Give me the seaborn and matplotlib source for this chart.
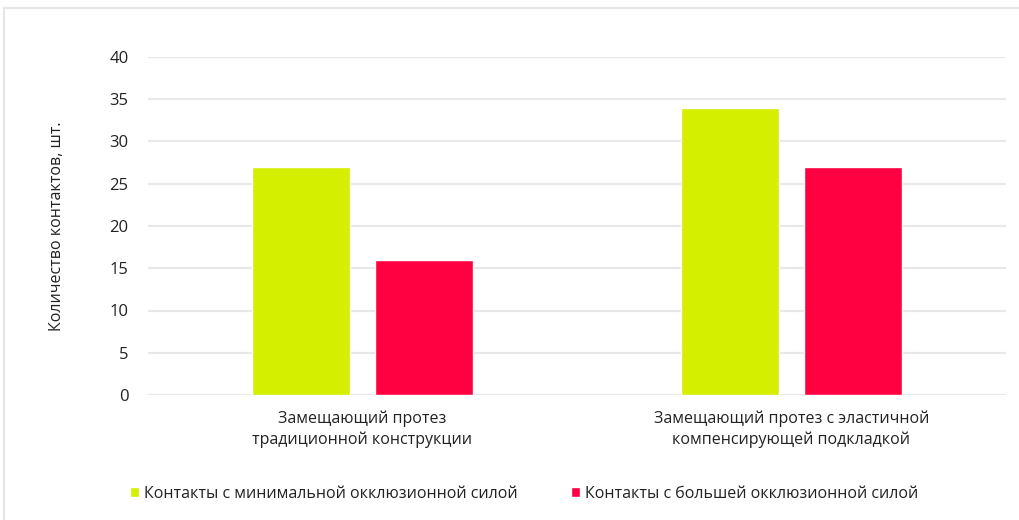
import matplotlib
matplotlib.use("Agg")
import matplotlib.pyplot as plt
import seaborn as sns
import pandas as pd
from matplotlib.lines import Line2D
from matplotlib.patches import Patch

categories = ["Замещающий протез\nтрадиционной конструкции",
              "Замещающий протез с эластичной\nкомпенсирующей подкладкой"]
series_names = ["Контакты с минимальной окклюзионной силой",
                "Контакты с большей окклюзионной силой"]
min_force = [27, 34]
big_force = [16, 27]
colors = ["#d4f000", "#ff0040"]
yticks = [0, 5, 10, 15, 20, 25, 30, 35, 40]

rows = []
for c, v in zip(categories, min_force):
    rows.append({"cat": c, "series": series_names[0], "val": v})
for c, v in zip(categories, big_force):
    rows.append({"cat": c, "series": series_names[1], "val": v})
df = pd.DataFrame(rows)

sns.set_theme(style="white")
plt.rcParams['font.family'] = ['Open Sans', 'DejaVu Sans']

fig = plt.figure(figsize=(10.19, 5.2), dpi=100)
ax = fig.add_axes([148/1019, 1-395/520, (1006-148)/1019, (395-57)/520])

sns.barplot(data=df, x="cat", y="val", hue="series", palette=colors,
            width=0.573, gap=0.21, ax=ax, legend=False, saturation=1,
            zorder=3)

ax.set_ylim(0, 40)
ax.set_yticks(yticks)
ax.set_xlim(-0.5, 1.5)
ax.grid(axis="y", color="#e8e8e8", linewidth=1.6, zorder=0)
ax.set_axisbelow(True)
for s in ax.spines.values():
    s.set_visible(False)
ax.tick_params(axis="y", length=0, labelsize=12, colors="#222222", pad=14)
ax.tick_params(axis="x", length=0, labelsize=11.5, colors="#222222", pad=11)
for t in ax.get_xticklabels():
    t.set_linespacing(1.35)
ax.set_xlabel("")
ax.set_ylabel("Количество контактов, шт.", fontsize=11.5, color="#222222")
ax.yaxis.set_label_coords(-0.097, 0.5)

handles = [Patch(facecolor=colors[0]), Patch(facecolor=colors[1])]
fig.legend(handles, series_names, loc="center", bbox_to_anchor=(524/1019, 1-494/520),
           ncol=2, frameon=False, fontsize=11.5, handlelength=0.6, handleheight=0.6,
           handletextpad=0.3, columnspacing=3.3, labelcolor="#222222")

# chart border (light gray)
fig.add_artist(Line2D([4/1019, 1], [1-8/520, 1-8/520], color="#e6e6e6", lw=1.5,
                      transform=fig.transFigure))
fig.add_artist(Line2D([4/1019, 4/1019], [0, 1-8/520], color="#e6e6e6", lw=1.5,
                      transform=fig.transFigure))

fig.savefig("out.png", dpi=100)
